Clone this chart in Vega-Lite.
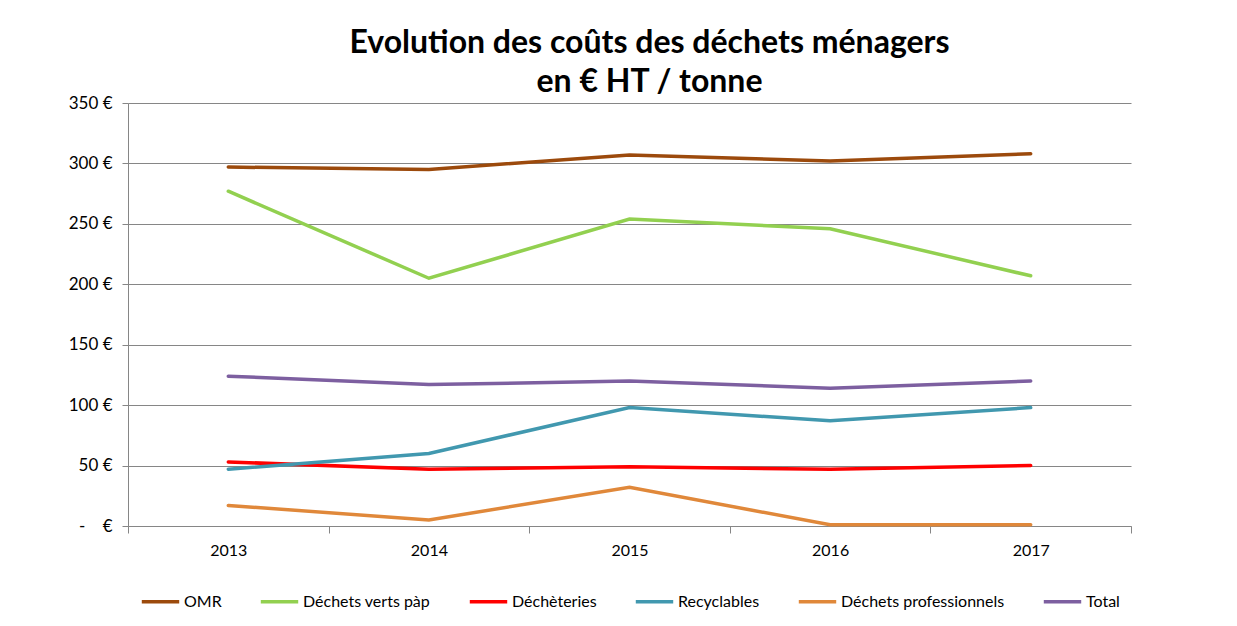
{
  "$schema": "https://vega.github.io/schema/vega-lite/v6.json",
  "autosize": {"type": "none"},
  "width": 1003,
  "height": 423,
  "padding": {"left": 128, "top": 103, "right": 106, "bottom": 100},
  "background": "white",
  "title": {
    "text": ["Evolution des coûts des déchets ménagers", "en € HT / tonne"],
    "font": "Lato",
    "fontSize": 32,
    "fontWeight": "bold",
    "color": "#000000",
    "anchor": "middle",
    "dx": 20,
    "lineHeight": 39,
    "offset": -5
  },
  "data": {
    "values": [
      {"annee": "2013", "serie": "OMR", "cout": 297},
      {"annee": "2014", "serie": "OMR", "cout": 295},
      {"annee": "2015", "serie": "OMR", "cout": 307},
      {"annee": "2016", "serie": "OMR", "cout": 302},
      {"annee": "2017", "serie": "OMR", "cout": 308},
      {"annee": "2013", "serie": "Déchets verts pàp", "cout": 277},
      {"annee": "2014", "serie": "Déchets verts pàp", "cout": 205},
      {"annee": "2015", "serie": "Déchets verts pàp", "cout": 254},
      {"annee": "2016", "serie": "Déchets verts pàp", "cout": 246},
      {"annee": "2017", "serie": "Déchets verts pàp", "cout": 207},
      {"annee": "2013", "serie": "Déchèteries", "cout": 53},
      {"annee": "2014", "serie": "Déchèteries", "cout": 47},
      {"annee": "2015", "serie": "Déchèteries", "cout": 49},
      {"annee": "2016", "serie": "Déchèteries", "cout": 47},
      {"annee": "2017", "serie": "Déchèteries", "cout": 50},
      {"annee": "2013", "serie": "Recyclables", "cout": 47},
      {"annee": "2014", "serie": "Recyclables", "cout": 60},
      {"annee": "2015", "serie": "Recyclables", "cout": 98},
      {"annee": "2016", "serie": "Recyclables", "cout": 87},
      {"annee": "2017", "serie": "Recyclables", "cout": 98},
      {"annee": "2013", "serie": "Déchets professionnels", "cout": 17},
      {"annee": "2014", "serie": "Déchets professionnels", "cout": 5},
      {"annee": "2015", "serie": "Déchets professionnels", "cout": 32},
      {"annee": "2016", "serie": "Déchets professionnels", "cout": 1},
      {"annee": "2017", "serie": "Déchets professionnels", "cout": 1},
      {"annee": "2013", "serie": "Total", "cout": 124},
      {"annee": "2014", "serie": "Total", "cout": 117},
      {"annee": "2015", "serie": "Total", "cout": 120},
      {"annee": "2016", "serie": "Total", "cout": 114},
      {"annee": "2017", "serie": "Total", "cout": 120}
    ]
  },
  "mark": {"type": "line", "strokeWidth": 3.5, "strokeCap": "round"},
  "encoding": {
    "x": {
      "field": "annee",
      "type": "ordinal",
      "bandPosition": 0.5,
      "scale": {"type": "band", "paddingInner": 0, "paddingOuter": 0},
      "axis": {
        "title": null,
        "labelAngle": 0,
        "labelFont": "Lato",
        "labelFontSize": 16,
        "labelColor": "#000000",
        "labelPadding": 9,
        "tickBand": "extent",
        "tickSize": 7,
        "tickColor": "#868686",
        "domainColor": "#868686",
        "grid": false
      }
    },
    "y": {
      "field": "cout",
      "type": "quantitative",
      "scale": {"domain": [0, 350], "nice": false},
      "axis": {
        "title": null,
        "values": [0, 50, 100, 150, 200, 250, 300, 350],
        "labelExpr": "datum.value == 0 ? '-\u00a0\u00a0\u00a0\u00a0€' : datum.value + ' €'",
        "labelFont": "Lato",
        "labelFontSize": 17,
        "labelColor": "#000000",
        "labelPadding": 10,
        "tickSize": 6,
        "tickColor": "#868686",
        "domainColor": "#868686",
        "grid": true,
        "gridColor": "#868686",
        "gridWidth": 1
      }
    },
    "color": {
      "field": "serie",
      "type": "nominal",
      "sort": ["OMR", "Déchets verts pàp", "Déchèteries", "Recyclables", "Déchets professionnels", "Total"],
      "scale": {
        "domain": ["OMR", "Déchets verts pàp", "Déchèteries", "Recyclables", "Déchets professionnels", "Total"],
        "range": ["#9C4A0C", "#92D050", "#FF0000", "#4198AF", "#E0883A", "#7D5FA0"]
      },
      "legend": {
        "title": null,
        "orient": "bottom",
        "direction": "horizontal",
        "symbolType": "stroke",
        "symbolSize": 1400,
        "symbolStrokeWidth": 3.5,
        "labelFont": "Lato",
        "labelFontSize": 16,
        "labelColor": "#000000",
        "labelLimit": 400,
        "columnPadding": 31,
        "labelOffset": 3,
        "offset": 23
      }
    }
  },
  "config": {
    "view": {"stroke": null},
    "legend": {"layout": {"bottom": {"anchor": "middle"}}}
  }
}
